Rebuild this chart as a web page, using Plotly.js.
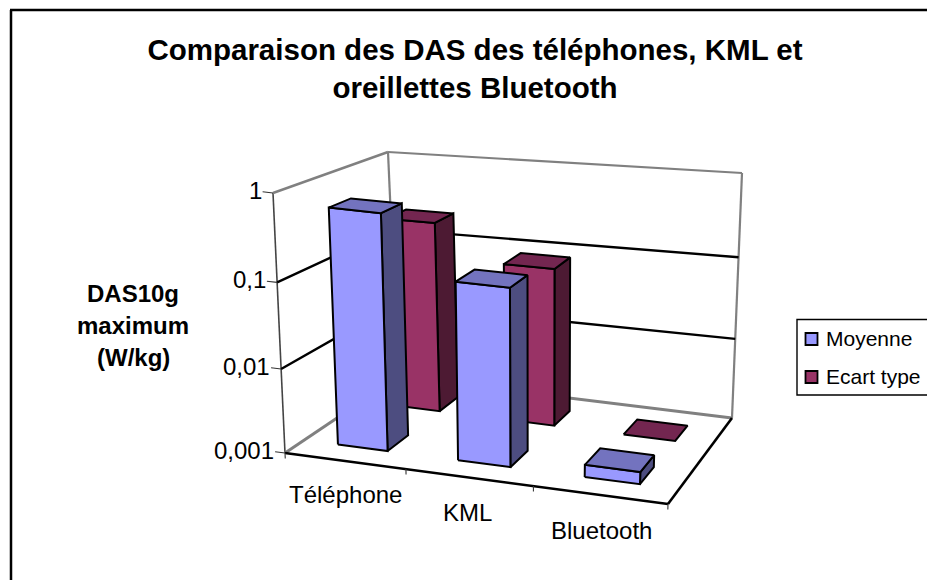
<!DOCTYPE html>
<html><head><meta charset="utf-8">
<script src="https://cdn.plot.ly/plotly-3.0.1.min.js"></script>
<style>html,body{margin:0;padding:0;background:#fff}#c{width:927px;height:580px}</style>
</head><body><div id="c"></div>
<script>
// ---- data ----
const categories = ['Téléphone', 'KML', 'Bluetooth'];
const seriesNames = ['Moyenne', 'Ecart type'];
const moyenne = [0.63, 0.13, 0.0014];
const ecartType = [0.24, 0.09, 0.001];
const yTickValues = [0.001, 0.01, 0.1, 1];
const yTickLabels = ['0,001', '0,01', '0,1', '1'];
const titleText = 'Comparaison des DAS des téléphones, KML et<br>oreillettes Bluetooth';
const yTitleLines = ['DAS10g', 'maximum', '(W/kg)'];

// ---- 3D box projected on the page ----
const corners = { // [u v w] => page px
  '000':[285,453], '100':[668,504], '010':[398,377], '110':[732,418],
  '001':[273,193], '101':[676,239], '011':[388,152], '111':[742,173]
};
const warpU = t => t*(1-0.077)/(1-0.077*t);
const warpV = t => t*(1.12)/(1+0.12*t);
const warpW = t => t*(1-0.046)/(1-0.046*t);
function proj(tu, tv, tw){
  const u=warpU(tu), v=warpV(tv), w=warpW(tw), r=[0,0];
  for(const a of [0,1]) for(const b of [0,1]) for(const c of [0,1]){
    const k=(a?u:1-u)*(b?v:1-v)*(c?w:1-w), p=corners[''+a+b+c];
    r[0]+=k*p[0]; r[1]+=k*p[1];
  }
  return r;
}
const level = val => (Math.log10(val)+3)/3;

const traces=[];
function poly(pts, o){
  traces.push({type:'scatter', mode:'lines', x:pts.map(p=>p[0]), y:pts.map(p=>p[1]),
    line:{color:o.line, width:o.width, simplify:false}, fill:o.fill?'toself':'none',
    fillcolor:o.fill, hoverinfo:'skip', showlegend:false});
}
const line=(a,b,color,width)=>poly([a,b],{line:color,width:width});

// walls and floor
const GREY='#808080';
line(proj(0,0,0),proj(0,0,1),'#444444',1.6);
line(proj(0,0,1),proj(0,1,1),GREY,2.4);
line(proj(0,1,1),proj(1,1,1),GREY,2.2);
line(proj(0,1,0),proj(0,1,1),GREY,2.2);
line(proj(1,1,0),proj(1,1,1),GREY,2.2);
line(proj(0,0,0),proj(0,1,0),GREY,3);
line(proj(0,1,0),proj(1,1,0),GREY,3);
// gridlines
yTickValues.slice(1,3).forEach(val=>{
  const w=level(val);
  poly([proj(0,0,w),proj(0,1,w),proj(1,1,w)],{line:'#000',width:2.4});
});
// front floor edges
line(proj(0,0,0),proj(1,0,0),'#000',2.6);
line(proj(1,0,0),proj(1,1,0),'#000',2.6);
// ticks
yTickValues.forEach(val=>line(proj(-0.028,0,level(val)),proj(0,0,level(val)),'#333',1.1));
[0,1,2,3].forEach(i=>line(proj(i/3,0,0),proj(i/3,0,-0.022),'#333',1.1));

// bars
const HALF_U=0.07, HALF_V=0.095, DEPTH=[0.25,0.75];
const COLORS=[
  {front:'#9999FF', side:'#4D4D80', top:'#7373BF'},
  {front:'#993366', side:'#4D1A33', top:'#732650'}
];
function bar(i,s,val){
  const u0=(i+.5)/3-HALF_U,u1=(i+.5)/3+HALF_U,v0=DEPTH[s]-HALF_V,v1=DEPTH[s]+HALF_V,w=level(val),c=COLORS[s];
  const o={line:'#000',width:2};
  if(w>0){
    poly([proj(u1,v0,0),proj(u1,v1,0),proj(u1,v1,w),proj(u1,v0,w),proj(u1,v0,0)],{...o,fill:c.side});
    poly([proj(u0,v0,0),proj(u1,v0,0),proj(u1,v0,w),proj(u0,v0,w),proj(u0,v0,0)],{...o,fill:c.front});
  }
  poly([proj(u0,v0,w),proj(u1,v0,w),proj(u1,v1,w),proj(u0,v1,w),proj(u0,v0,w)],{...o,fill:c.top});
}
ecartType.forEach((val,i)=>bar(i,1,val));
moyenne.forEach((val,i)=>bar(i,0,val));

// text
const FONT='"Liberation Sans", Arial, sans-serif';
const annotations=[];
const txt=(x,y,text,anchor,size,bold)=>annotations.push({xref:'x',yref:'y',x,y,text:bold?'<b>'+text+'</b>':text,
  showarrow:false,xanchor:anchor,yanchor:'middle',font:{family:FONT,size,color:'#000'},borderpad:0,borderwidth:0});
yTickValues.forEach((val,i)=>{const p=proj(0,0,level(val)); txt(p[0]-11.5,p[1]-2.5,yTickLabels[i],'right',24);});
const catPos=[[345,494],[467.5,512],[601.5,530]];
categories.forEach((c,i)=>txt(catPos[i][0],catPos[i][1],c,'center',24));
yTitleLines.forEach((t,i)=>txt(133,[293,325.5,357.5][i],t,'center',24,true));

// legend
const shapes=[
  {type:'line',xref:'x',yref:'y',x0:11,y0:580,x1:11,y1:10,line:{color:'#000',width:2.5}},
  {type:'line',xref:'x',yref:'y',x0:10,y0:10,x1:927,y1:10,line:{color:'#000',width:2.5}},
  {type:'rect',xref:'x',yref:'y',x0:797,y0:319.5,x1:930,y1:395,line:{color:'#000',width:1.4},fillcolor:'#fff'}
];
seriesNames.forEach((n,i)=>{
  const yc=[339,377][i];
  shapes.push({type:'rect',xref:'x',yref:'y',x0:805.5,y0:yc-6,x1:817.5,y1:yc+6,line:{color:'#000',width:1.8},fillcolor:COLORS[i].front});
  txt(826,yc-1,n,'left',21);
});

Plotly.newPlot('c',traces,{
  width:927,height:580,margin:{l:0,r:0,t:0,b:0},paper_bgcolor:'#fff',plot_bgcolor:'#fff',showlegend:false,
  title:{text:'<b>'+titleText+'</b>',font:{family:FONT,size:29.5,color:'#000'},x:0.5124,xanchor:'center',y:0.8966,yanchor:'top',xref:'paper',yref:'paper'},
  xaxis:{range:[0,927],visible:false,fixedrange:true},
  yaxis:{range:[580,0],visible:false,fixedrange:true},
  annotations,shapes
},{displayModeBar:false,staticPlot:true});
</script></body></html>
